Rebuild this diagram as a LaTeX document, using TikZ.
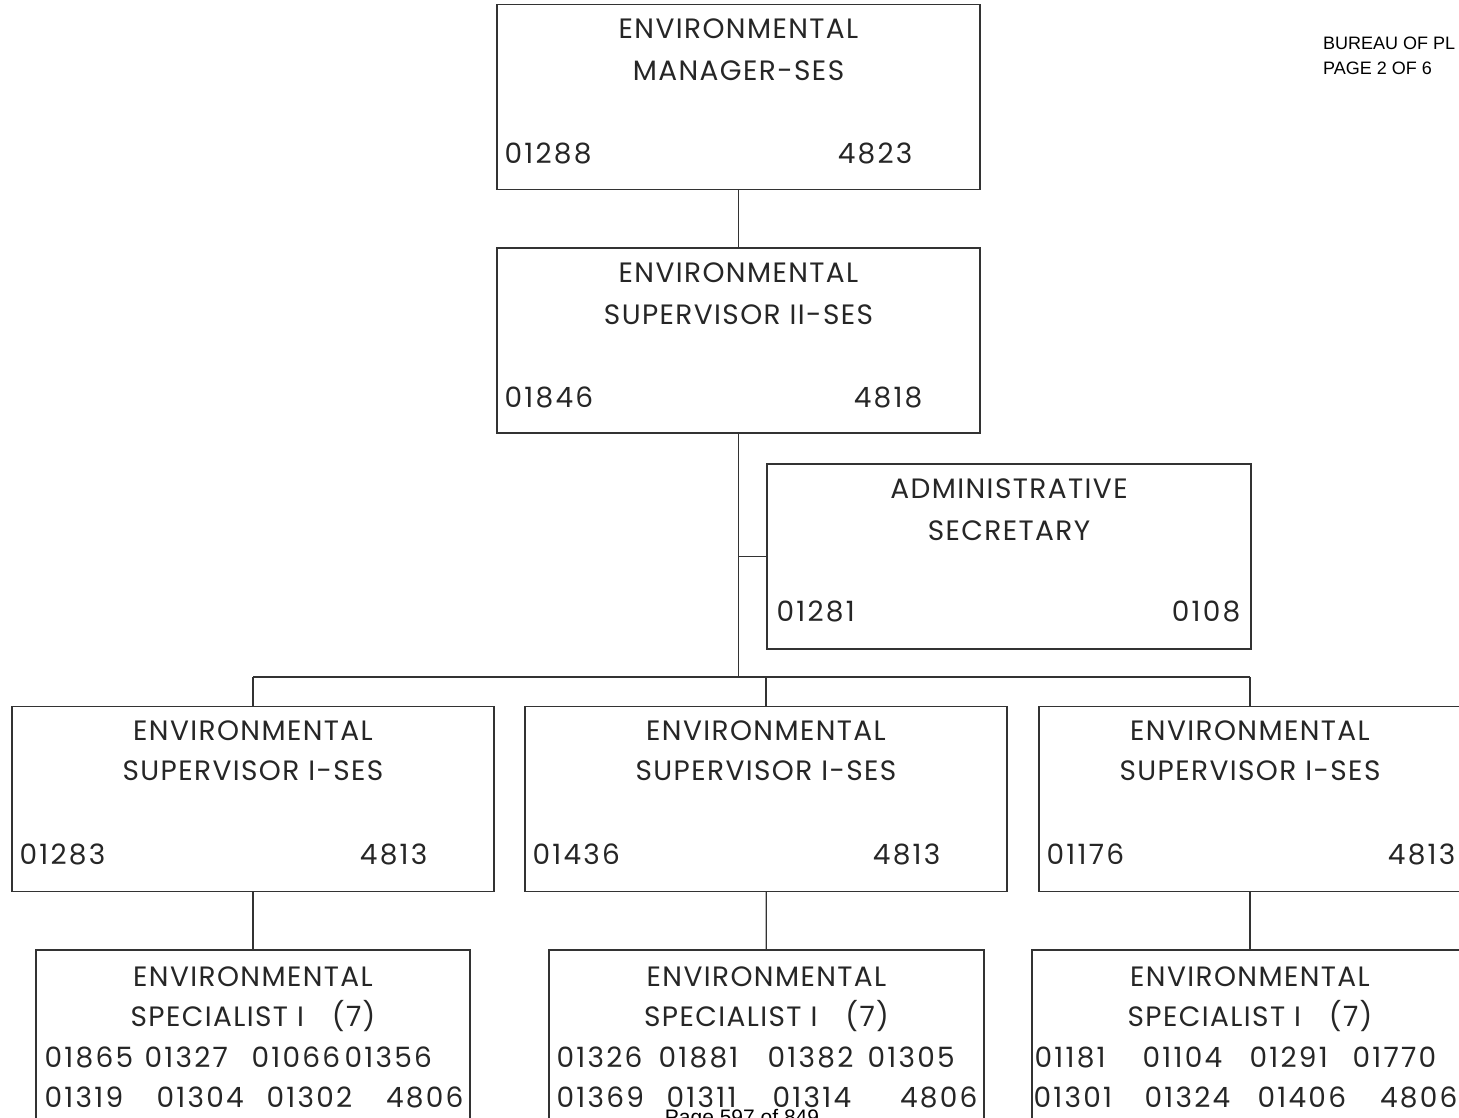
\documentclass[tikz,border=0pt]{standalone}
\usepackage{fontspec}
\setmainfont{Poppins}[LetterSpace=5]
\newfontfamily\numfont{Poppins}[Numbers=Monospaced,LetterSpace=8]
\newfontfamily\hdrfont{Liberation Sans}
\begin{document}
\begin{tikzpicture}[x=1pt,y=-1pt,
    box/.style={draw=black!80,line width=1.2pt,minimum width=#1,minimum height=185pt,inner sep=0pt},
    title/.style={font=\fontsize{28}{32}\selectfont,text=black!85,inner sep=0pt,anchor=base},
    num/.style={font=\numfont\fontsize{28}{32}\selectfont,text=black!85,inner sep=0pt,anchor=base west},
    rnum/.style={num,anchor=base east},
    hdr/.style={font=\hdrfont\fontsize{18}{20}\selectfont,inner sep=0pt,anchor=base west},
    link/.style={draw=black!80,line width=1.2pt}]
    \useasboundingbox (0,0) rectangle (1459,1118);
    \clip (0,0) rectangle (1459,1118);

    % boxes
    \node[box=483pt] (mgr) at (738.5,97) {};
    \node[box=483pt] (sup) at (738.5,340.5) {};
    \node[box=484pt] (adm) at (1009,556.5) {};
    \node[box=482pt] (supa) at (253,799) {};
    \node[box=482pt] (supb) at (766,799) {};
    \node[box=422pt] (supc) at (1250,799) {};
    \node[box=434pt,minimum height=200pt] (spa) at (253,1050) {};
    \node[box=435pt,minimum height=200pt] (spb) at (766.5,1050) {};
    \node[box=436pt,minimum height=200pt] (spc) at (1250,1050) {};
    \coordinate (bus) at (738.5,677);

    % manager
    \node[title] (mgr1) at ([yshift=-35pt]mgr.north) {ENVIRONMENTAL};
    \node[title] (mgr2) at ([yshift=-77pt]mgr.north) {MANAGER-SES};
    \node[num] (mgrl) at ([xshift=8pt,yshift=-160pt]mgr.north west) {01288};
    \node[rnum] (mgrr) at ([xshift=-68pt,yshift=-160pt]mgr.north east) {4823};

    % supervisor II
    \node[title] (sup1) at ([yshift=-35pt]sup.north) {ENVIRONMENTAL};
    \node[title] (sup2) at ([yshift=-77pt]sup.north) {SUPERVISOR II-SES};
    \node[num] (supl) at ([xshift=8pt,yshift=-160pt]sup.north west) {01846};
    \node[rnum] (supr) at ([xshift=-58pt,yshift=-160pt]sup.north east) {4818};

    % secretary
    \node[title] (adm1) at ([yshift=-35pt]adm.north) {ADMINISTRATIVE};
    \node[title] (adm2) at ([yshift=-77pt]adm.north) {SECRETARY};
    \node[num] (adml) at ([xshift=10pt,yshift=-158pt]adm.north west) {01281};
    \node[rnum] (admr) at ([xshift=-11pt,yshift=-158pt]adm.north east) {0108};

    % supervisors I
    \node[title] (supa1) at ([yshift=-35pt]supa.north) {ENVIRONMENTAL};
    \node[title] (supa2) at ([yshift=-75pt]supa.north) {SUPERVISOR I-SES};
    \node[num] (supal) at ([xshift=8pt,yshift=-159pt]supa.north west) {01283};
    \node[rnum] (supar) at ([xshift=-67pt,yshift=-159pt]supa.north east) {4813};

    \node[title] (supb1) at ([yshift=-35pt]supb.north) {ENVIRONMENTAL};
    \node[title] (supb2) at ([yshift=-75pt]supb.north) {SUPERVISOR I-SES};
    \node[num] (supbl) at ([xshift=8pt,yshift=-159pt]supb.north west) {01436};
    \node[rnum] (supbr) at ([xshift=-67pt,yshift=-159pt]supb.north east) {4813};

    \node[title] (supc1) at ([yshift=-35pt]supc.north) {ENVIRONMENTAL};
    \node[title] (supc2) at ([yshift=-75pt]supc.north) {SUPERVISOR I-SES};
    \node[num] (supcl) at ([xshift=8pt,yshift=-159pt]supc.north west) {01176};
    \node[rnum] (supcr) at ([xshift=-6pt,yshift=-159pt]supc.north east) {4813};

    % specialists
    \node[title] (spa1) at ([yshift=-37pt]spa.north) {ENVIRONMENTAL};
    \node[title] (spa2) at ([yshift=-77pt]spa.north) {SPECIALIST I\hspace{28pt}(7)};
    \node[num] at ([xshift=9pt,yshift=-118pt]spa.north west) {01865};
    \node[num] at ([xshift=109pt,yshift=-118pt]spa.north west) {01327};
    \node[num] at ([xshift=216pt,yshift=-118pt]spa.north west) {01066};
    \node[num] at ([xshift=309pt,yshift=-118pt]spa.north west) {01356};
    \node[num] at ([xshift=9pt,yshift=-158pt]spa.north west) {01319};
    \node[num] at ([xshift=121pt,yshift=-158pt]spa.north west) {01304};
    \node[num] at ([xshift=231pt,yshift=-158pt]spa.north west) {01302};
    \node[rnum] at ([xshift=-7pt,yshift=-158pt]spa.north east) {4806};

    \node[title] (spb1) at ([yshift=-37pt]spb.north) {ENVIRONMENTAL};
    \node[title] (spb2) at ([yshift=-77pt]spb.north) {SPECIALIST I\hspace{28pt}(7)};
    \node[num] at ([xshift=8pt,yshift=-118pt]spb.north west) {01326};
    \node[num] at ([xshift=110pt,yshift=-118pt]spb.north west) {01881};
    \node[num] at ([xshift=219pt,yshift=-118pt]spb.north west) {01382};
    \node[num] at ([xshift=319pt,yshift=-118pt]spb.north west) {01305};
    \node[num] at ([xshift=8pt,yshift=-158pt]spb.north west) {01369};
    \node[num] at ([xshift=118pt,yshift=-158pt]spb.north west) {01311};
    \node[num] at ([xshift=224pt,yshift=-158pt]spb.north west) {01314};
    \node[rnum] at ([xshift=-7pt,yshift=-158pt]spb.north east) {4806};

    \node[title] (spc1) at ([yshift=-37pt]spc.north) {ENVIRONMENTAL};
    \node[title] (spc2) at ([yshift=-77pt]spc.north) {SPECIALIST I\hspace{28pt}(7)};
    \node[num] at ([xshift=3pt,yshift=-118pt]spc.north west) {01181};
    \node[num] at ([xshift=111pt,yshift=-118pt]spc.north west) {01104};
    \node[num] at ([xshift=218pt,yshift=-118pt]spc.north west) {01291};
    \node[num] at ([xshift=321pt,yshift=-118pt]spc.north west) {01770};
    \node[num] at ([xshift=2pt,yshift=-158pt]spc.north west) {01301};
    \node[num] at ([xshift=113pt,yshift=-158pt]spc.north west) {01324};
    \node[num] at ([xshift=226pt,yshift=-158pt]spc.north west) {01406};
    \node[rnum] at ([xshift=-11pt,yshift=-158pt]spc.north east) {4806};

    % lines
    \path[link] (mgr) -- (sup);
    \path[link] (sup.south) -- (bus);
    \path[link] (sup.south |- adm.west) -- (adm.west);
    \path[link] (supa.north |- bus) -- (supc.north |- bus);
    \path[link] (supa.north |- bus) -- (supa.north);
    \path[link] (supb.north |- bus) -- (supb.north);
    \path[link] (supc.north |- bus) -- (supc.north);
    \path[link] (supa) -- (spa);
    \path[link] (supb) -- (spb);
    \path[link] (supc) -- (spc);

    % page marks
    \node[hdr] (bur) at (1323,50) {BUREAU OF PL};
    \node[hdr] (pg2) at (1323,75) {PAGE 2 OF 6};
    \node[font=\hdrfont\fontsize{21}{24}\selectfont,inner sep=0pt,anchor=base] (pg) at (742,1124) {Page 597 of 849};
\end{tikzpicture}
\end{document}
